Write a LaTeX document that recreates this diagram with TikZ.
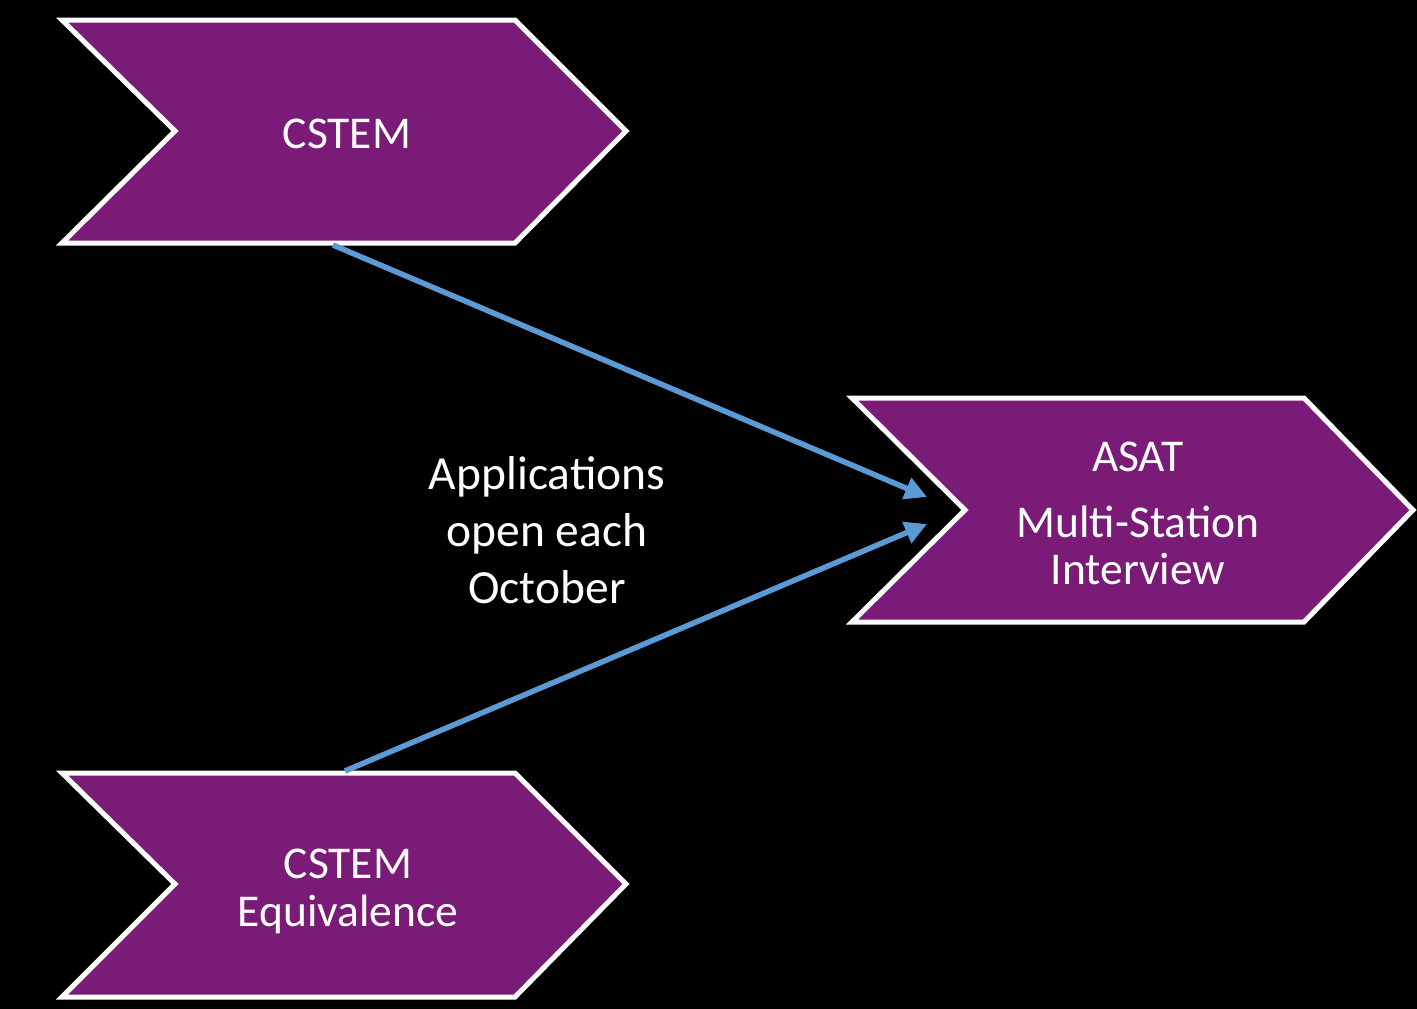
\documentclass[tikz,border=0pt]{standalone}
\usepackage{fontspec}
\setmainfont{Carlito}
\usetikzlibrary{arrows.meta}
\definecolor{chevpurple}{RGB}{123,27,120}
\definecolor{arrowblue}{RGB}{91,155,213}
\begin{document}
\begin{tikzpicture}[x=1pt,y=-1pt,
  chev/.style={fill=chevpurple,draw=white,line width=5pt,line join=miter},
  lbl/.style={text=white,align=center,font=\fontsize{45.5}{48}\selectfont},
  conn/.style={draw=arrowblue,line width=5.5pt,-{Triangle[length=22pt,width=22pt]}}]
\fill[black] (0,0) rectangle (1417,1009);
\useasboundingbox (0,0) rectangle (1417,1009);
% chevrons
\draw[chev] (62,20) -- (515,20) -- (626,131) -- (515,243) -- (62,243) -- (175,131) -- cycle;
\draw[chev] (62,773) -- (515,773) -- (626,884) -- (515,997) -- (62,997) -- (175,884) -- cycle;
\draw[chev] (852,398) -- (1304,398) -- (1413,510) -- (1304,622) -- (852,622) -- (965,510) -- cycle;
% labels
\node[lbl] (cstem) at (347,134) {CSTEM};
\node[lbl] (cstemeq) at (348,891) {CSTEM\\Equivalence};
\node[lbl,font=\fontsize{45.5}{47}\selectfont] (asat) at (1138,513) {ASAT\\[19pt]Multi-Station\\Interview};
\node[lbl,font=\fontsize{47.5}{57}\selectfont] (apps) at (547,530) {Applications\\open each\\October};
% connector anchors
\coordinate (s1) at (333,245);
\coordinate (s2) at (345,771);
\coordinate (t1) at (927,497);
\coordinate (t2) at (927,524);
\draw[conn] (s1) -- (t1);
\draw[conn] (s2) -- (t2);
\end{tikzpicture}
\end{document}
